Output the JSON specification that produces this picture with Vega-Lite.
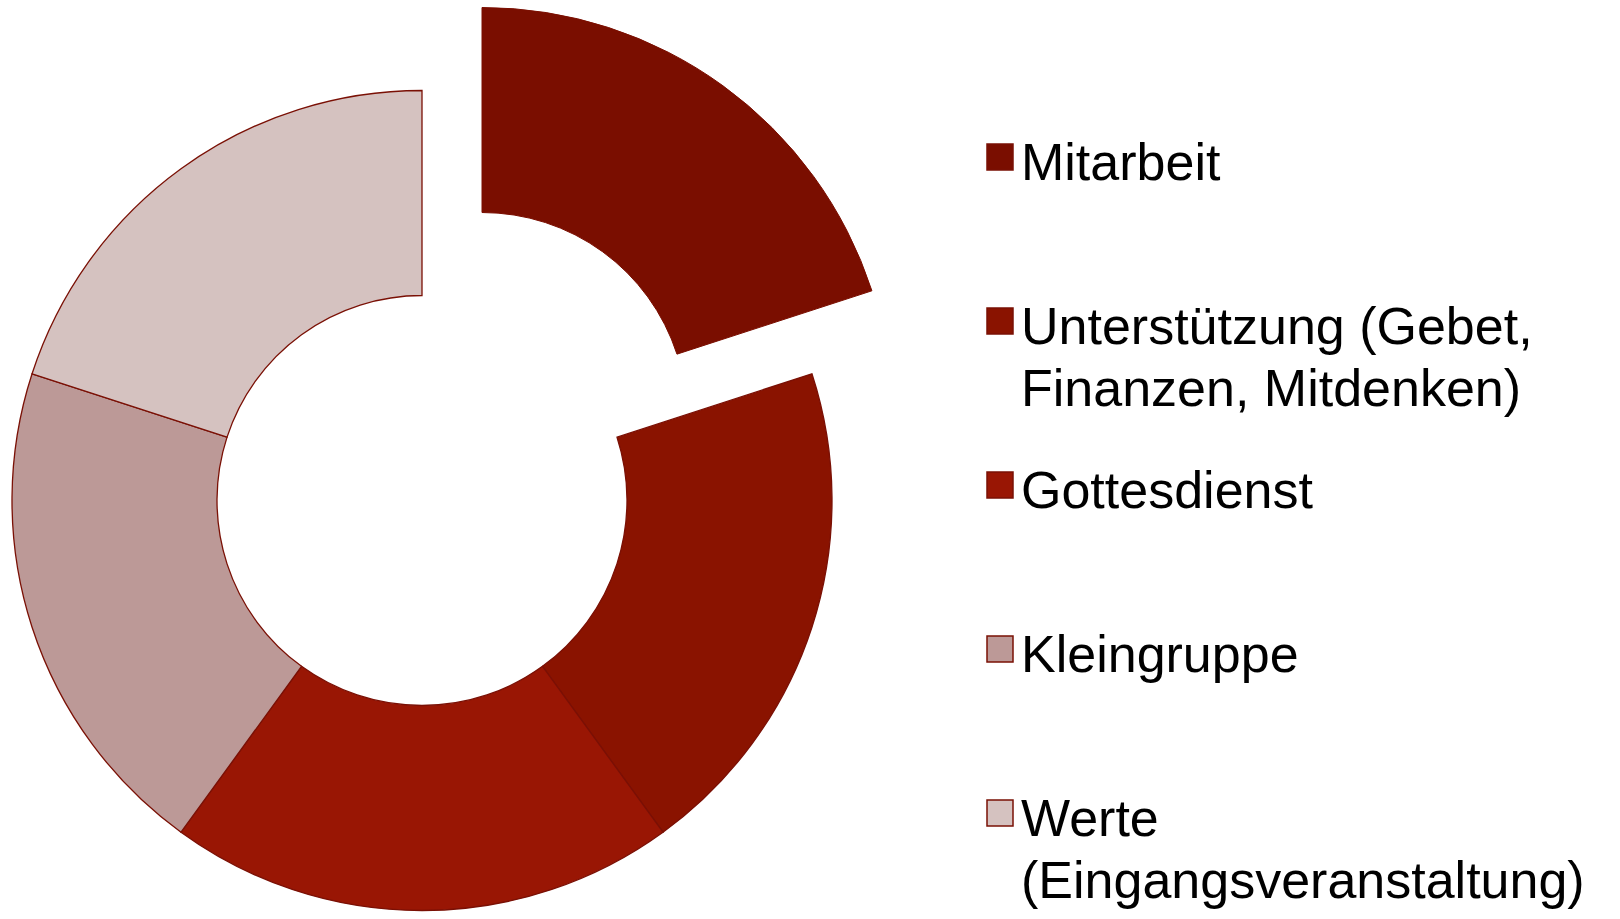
{
  "$schema": "https://vega.github.io/schema/vega-lite/v6.json",
  "width": 1620,
  "height": 919,
  "autosize": "none",
  "padding": 0,
  "background": "white",
  "data": {
    "values": [
      {"kategorie": "Mitarbeit", "anteil": 1, "i": 1},
      {"kategorie": "Unterstützung (Gebet, Finanzen, Mitdenken)", "anteil": 1, "i": 2},
      {"kategorie": "Gottesdienst", "anteil": 1, "i": 3},
      {"kategorie": "Kleingruppe", "anteil": 1, "i": 4},
      {"kategorie": "Werte (Eingangsveranstaltung)", "anteil": 1, "i": 5}
    ]
  },
  "encoding": {
    "theta": {"field": "anteil", "type": "quantitative", "stack": true},
    "order": {"field": "i", "type": "quantitative"},
    "color": {
      "field": "kategorie",
      "type": "nominal",
      "scale": {
        "domain": ["Mitarbeit", "Unterstützung (Gebet, Finanzen, Mitdenken)", "Gottesdienst", "Kleingruppe", "Werte (Eingangsveranstaltung)"],
        "range": ["#7a0e00", "#8a1300", "#991604", "#bc9997", "#d5c2c0"]
      },
      "legend": {
        "orient": "none",
        "legendX": 974,
        "legendY": 131,
        "title": null,
        "symbolType": "square",
        "symbolSize": 676,
        "symbolStrokeColor": "#7a1005",
        "symbolStrokeWidth": 1.5,
        "labelFont": "Liberation Sans",
        "labelFontSize": 52,
        "labelColor": "#000000",
        "labelLimit": 800,
        "labelOffset": -5,
        "labelBaseline": "top",
        "rowPadding": 43,
        "labelExpr": "datum.value == 'Unterstützung (Gebet, Finanzen, Mitdenken)' ? ['Unterstützung (Gebet,', 'Finanzen, Mitdenken)'] : datum.value == 'Werte (Eingangsveranstaltung)' ? ['Werte', '(Eingangsveranstaltung)'] : [datum.value, ' ']",
        "encode": {"labels": {"update": {"lineHeight": {"value": 62}, "dy": {"value": -18}}}}
      }
    }
  },
  "layer": [
    {
      "mark": {"type": "arc", "outerRadius": 410, "innerRadius": 205, "xOffset": -388, "yOffset": 41, "stroke": "#7a1005", "strokeWidth": 1.3},
      "encoding": {
        "opacity": {"condition": {"test": "datum.kategorie == 'Mitarbeit'", "value": 0}, "value": 1}
      }
    },
    {
      "transform": [{"filter": "datum.kategorie == 'Mitarbeit'"}],
      "mark": {"type": "arc", "outerRadius": 410, "innerRadius": 205, "xOffset": -328, "yOffset": -42, "stroke": "#7a0e00", "strokeWidth": 1}
    }
  ]
}
